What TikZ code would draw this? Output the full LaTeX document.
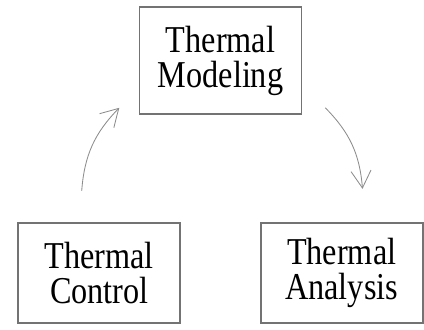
\documentclass[tikz,border=0pt]{standalone}
\usepackage{fontspec}
\setmainfont[FakeStretch=0.85]{Liberation Serif}
\usetikzlibrary{arrows.meta}

\tikzstyle{block} = [rectangle,
minimum width=4.05cm,
minimum height=2.5cm,
text centered,
align=center,
font=\fontsize{27}{25}\selectfont,
line width=1.4pt,
draw=black!55,
fill=white]
\tikzstyle{flow} = [black!45, line width=0.6pt, bend left=20]

\begin{document}
\begin{tikzpicture}[node distance=5.3125cm, >={Straight Barb[length=4.3mm,width=5mm]}]
\useasboundingbox (-5.5125,1.5125) rectangle (5.0875,-6.7125);

\node (model) [block, minimum height=2.675cm] {Thermal\\Modeling};
\node (ctrl) [block, below of=model, xshift=-3.03cm] {Thermal\\Control};
\node (anal) [block, below of=model, xshift=3.03cm] {Thermal\\Analysis};

\draw [->, flow] ([shift={(-0.44,0.78)}]ctrl.north) to ([shift={(-0.48,0.18)}]model.south west);
\draw [->, flow] ([shift={(0.57,0.18)}]model.south east) to ([shift={(0.52,0.83)}]anal.north);
\end{tikzpicture}
\end{document}
